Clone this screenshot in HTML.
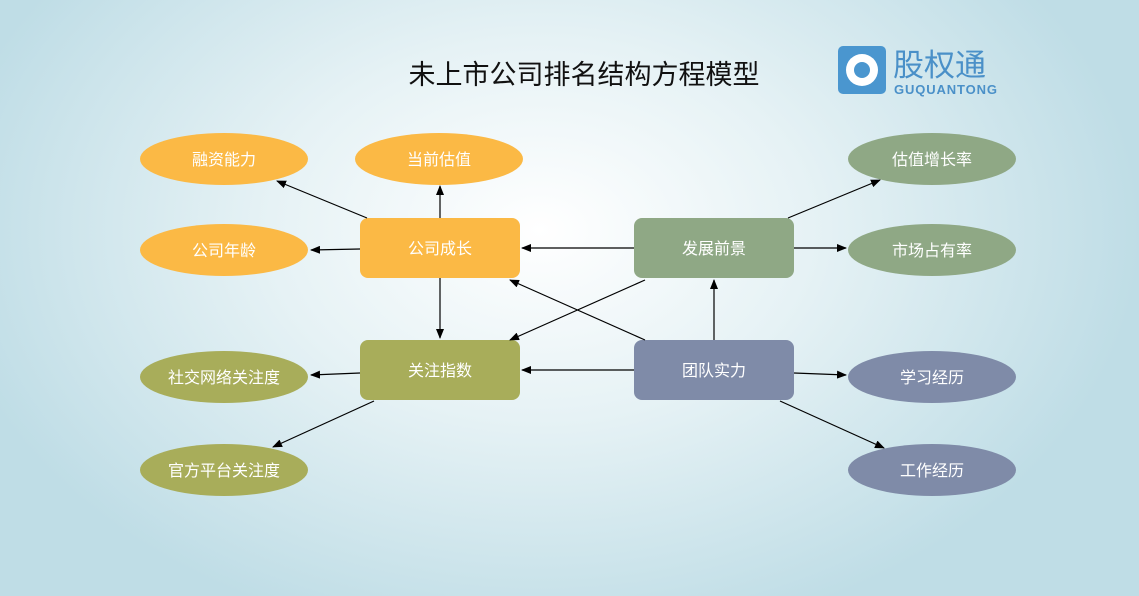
<!DOCTYPE html>
<html><head><meta charset="utf-8"><style>
body{margin:0;width:1139px;height:596px;overflow:hidden;background:radial-gradient(ellipse 600px 420px at 540px 230px,#ffffff 0%,#e6f2f5 45%,#bfdde6 100%);font-family:"Liberation Sans","Noto Sans CJK SC",sans-serif;}
</style></head><body>
<svg width="1139" height="596" xmlns="http://www.w3.org/2000/svg" style="position:absolute;left:0;top:0">
<defs><marker id="a" markerWidth="10" markerHeight="8" refX="9" refY="4" orient="auto" markerUnits="userSpaceOnUse"><path d="M0,0 L10,4 L0,8 z" fill="#000"/></marker></defs>
<text x="584" y="84" font-size="27" text-anchor="middle" fill="#111" font-family="Liberation Sans,Noto Sans CJK SC,sans-serif">未上市公司排名结构方程模型</text>
<rect x="838" y="46" width="48" height="48" rx="5" fill="#4a96cf"/>
<circle cx="862" cy="70" r="16" fill="#fff"/><circle cx="862" cy="70" r="8" fill="#4a96cf"/>
<text x="893" y="76" font-size="31" fill="#4a90c8" font-family="Noto Sans CJK SC,sans-serif">股权通</text>
<text x="894" y="94" font-size="13" font-weight="bold" fill="#4a90c8" font-family="Liberation Sans,sans-serif" textLength="103">GUQUANTONG</text>
<g font-size="16" fill="#fff" text-anchor="middle" font-family="Liberation Sans,Noto Sans CJK SC,sans-serif">
<ellipse cx="224" cy="159" rx="84" ry="26" fill="#fbb945"/><text x="224" y="165">融资能力</text>
<ellipse cx="439" cy="159" rx="84" ry="26" fill="#fbb945"/><text x="439" y="165">当前估值</text>
<ellipse cx="224" cy="250" rx="84" ry="26" fill="#fbb945"/><text x="224" y="256">公司年龄</text>
<ellipse cx="932" cy="159" rx="84" ry="26" fill="#8fa885"/><text x="932" y="165">估值增长率</text>
<ellipse cx="932" cy="250" rx="84" ry="26" fill="#8fa885"/><text x="932" y="256">市场占有率</text>
<ellipse cx="224" cy="377" rx="84" ry="26" fill="#a8ad5a"/><text x="224" y="383">社交网络关注度</text>
<ellipse cx="224" cy="470" rx="84" ry="26" fill="#a8ad5a"/><text x="224" y="476">官方平台关注度</text>
<ellipse cx="932" cy="377" rx="84" ry="26" fill="#7f8ba8"/><text x="932" y="383">学习经历</text>
<ellipse cx="932" cy="470" rx="84" ry="26" fill="#7f8ba8"/><text x="932" y="476">工作经历</text>
<rect x="360" y="218" width="160" height="60" rx="8" fill="#fbb945"/><text x="440" y="254">公司成长</text>
<rect x="360" y="340" width="160" height="60" rx="8" fill="#a8ad5a"/><text x="440" y="376">关注指数</text>
<rect x="634" y="218" width="160" height="60" rx="8" fill="#8fa885"/><text x="714" y="254">发展前景</text>
<rect x="634" y="340" width="160" height="60" rx="8" fill="#7f8ba8"/><text x="714" y="376">团队实力</text>
</g>
<g stroke="#000" stroke-width="1.2" marker-end="url(#a)">
<line x1="367" y1="218" x2="277" y2="181"/>
<line x1="440" y1="218" x2="440" y2="186"/>
<line x1="360" y1="249" x2="311" y2="250"/>
<line x1="440" y1="278" x2="440" y2="338"/>
<line x1="634" y1="248" x2="522" y2="248"/>
<line x1="788" y1="218" x2="880" y2="180"/>
<line x1="794" y1="248" x2="846" y2="248"/>
<line x1="645" y1="280" x2="510" y2="340"/>
<line x1="645" y1="340" x2="510" y2="280"/>
<line x1="714" y1="340" x2="714" y2="280"/>
<line x1="634" y1="370" x2="522" y2="370"/>
<line x1="794" y1="373" x2="846" y2="375"/>
<line x1="780" y1="401" x2="884" y2="448"/>
<line x1="360" y1="373" x2="311" y2="375"/>
<line x1="374" y1="401" x2="273" y2="447"/>
</g>
</svg>
</body></html>
